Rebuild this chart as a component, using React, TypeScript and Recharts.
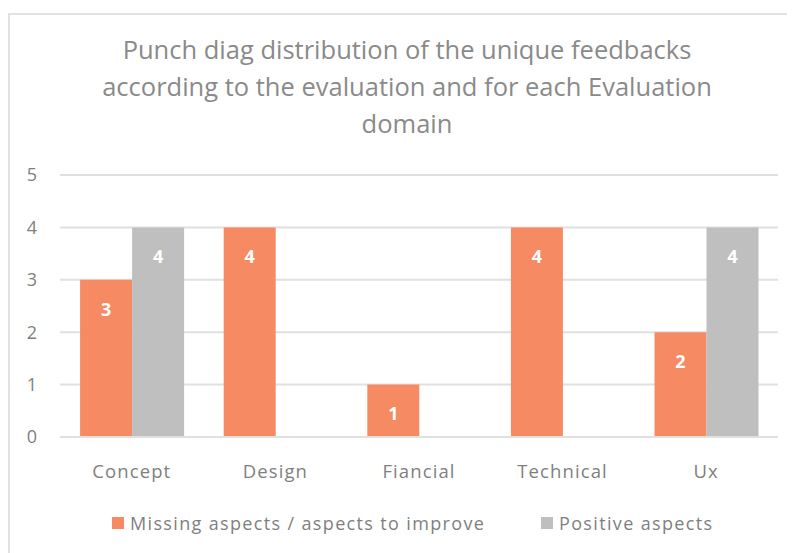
import React from "react";
import { BarChart, Bar, XAxis, YAxis, CartesianGrid, Legend, LabelList } from "recharts";

const categories = ["Concept", "Design", "Fiancial", "Technical", "Ux"];
const missingAspects: (number | null)[] = [3, 4, 1, 4, 2];
const positiveAspects: (number | null)[] = [4, null, null, null, 4];
const yTicks = [0, 1, 2, 3, 4, 5];
const seriesNames = ["Missing aspects / aspects to improve", "Positive aspects"];
const seriesColors = ["#F68A63", "#BFBFBF"];
const titleLines = [
  "Punch diag distribution of the unique feedbacks",
  "according to the evaluation and for each Evaluation",
  "domain",
];

const data = categories.map((c, i) => ({
  name: c,
  missing: missingAspects[i],
  positive: positiveAspects[i],
}));

const FONT = "'Open Sans', Lato, sans-serif";
const TEXT = "#7f7f7f";

const renderLegend = (props: any) => {
  const { payload } = props;
  return (
    <div style={{ position: "relative", width: 787, height: 30, fontFamily: FONT }}>
      {payload.map((p: any, i: number) => (
        <div
          key={i}
          style={{
            position: "absolute",
            left: i === 0 ? 104 : 533,
            top: 0,
            display: "flex",
            alignItems: "center",
            whiteSpace: "nowrap",
          }}
        >
          <span style={{ display: "inline-block", width: 12, height: 12, background: p.color, marginRight: 6 }} />
          <span style={{ fontSize: 18, color: TEXT, letterSpacing: 1.35 }}>{p.value}</span>
        </div>
      ))}
    </div>
  );
};

export default function App() {
  return (
    <div style={{ position: "relative", width: 787, height: 545 }}>
      <div
        style={{
          position: "absolute",
          left: 0,
          top: 5,
          width: 787,
          height: 540,
          borderTop: "2px solid #e2e2e2",
          borderLeft: "2px solid #e2e2e2",
          boxSizing: "border-box",
        }}
      />
      <div
        style={{
          position: "absolute",
          left: 0,
          top: 23,
          width: 798,
          textAlign: "center",
          fontFamily: FONT,
          fontSize: 25.5,
          lineHeight: "37px",
          color: "#8a8a8a",
        }}
      >
        {titleLines.map((l, i) => (
          <div key={i}>{l}</div>
        ))}
      </div>
      <div style={{ position: "absolute", left: 0, top: 0 }}>
        <BarChart
          width={787}
          height={545}
          data={data}
          margin={{ top: 167, right: 17, left: 0, bottom: 56 }}
          barCategoryGap="14%"
          barGap={0}
        >
          <CartesianGrid vertical={false} stroke="#e0e0e0" strokeWidth={2} />
          <XAxis
            dataKey="name"
            axisLine={{ stroke: "#e0e0e0", strokeWidth: 2 }}
            tickLine={false}
            tickSize={0}
            tickMargin={28}
            height={30}
            tick={{ fill: TEXT, fontSize: 18.5, fontFamily: FONT, letterSpacing: 1.1 }}
          />
          <YAxis
            domain={[0, 5]}
            ticks={yTicks}
            width={52}
            axisLine={false}
            tickLine={false}
            tickSize={0}
            tickMargin={23}
            tick={{ fill: TEXT, fontSize: 18, fontFamily: FONT }}
          />
          <Legend
            verticalAlign="bottom"
            content={renderLegend}
            wrapperStyle={{ position: "absolute", left: 0, top: 503, width: 787 }}
          />
          <Bar dataKey="missing" name={seriesNames[0]} fill={seriesColors[0]} isAnimationActive={false}>
            <LabelList
              dataKey="missing"
              position="insideTop"
              offset={23}
              fill="#ffffff"
              style={{ fontSize: 18, fontWeight: 700, fontFamily: FONT }}
            />
          </Bar>
          <Bar dataKey="positive" name={seriesNames[1]} fill={seriesColors[1]} isAnimationActive={false}>
            <LabelList
              dataKey="positive"
              position="insideTop"
              offset={23}
              fill="#ffffff"
              style={{ fontSize: 18, fontWeight: 700, fontFamily: FONT }}
            />
          </Bar>
        </BarChart>
      </div>
    </div>
  );
}
